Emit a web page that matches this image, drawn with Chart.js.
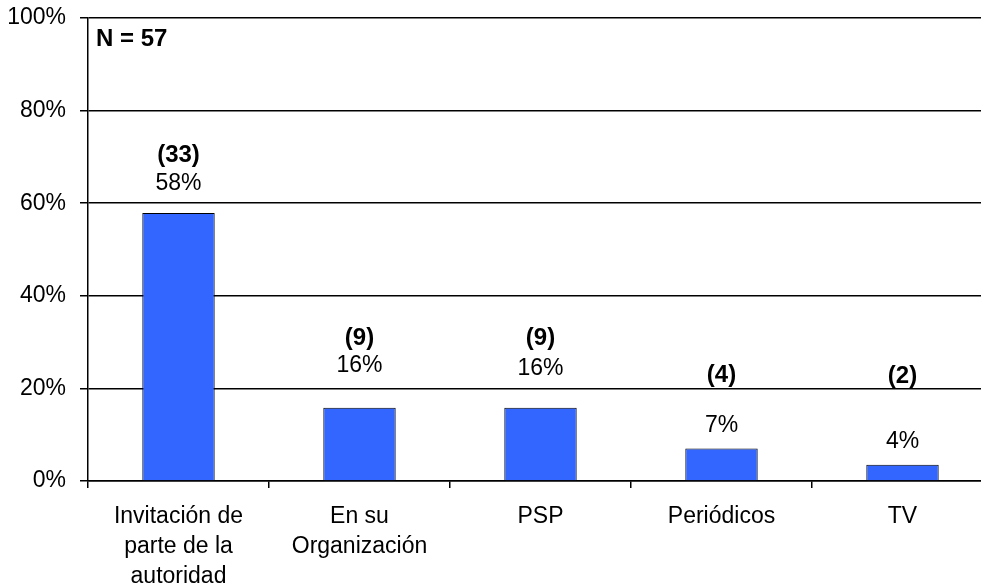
<!DOCTYPE html>
<html>
<head>
<meta charset="utf-8">
<script src="https://cdn.jsdelivr.net/npm/chart.js@4.4.0/dist/chart.umd.min.js"></script>
<style>
html,body{margin:0;padding:0;background:#fff;overflow:hidden;width:981px;height:585px;}
#wrap{position:absolute;left:0;top:0;width:994px;height:585px;}
</style>
</head>
<body>
<div id="wrap"><canvas id="c"></canvas></div>
<script>
const categories = [['Invitación de','parte de la','autoridad'], ['En su','Organización'], 'PSP', 'Periódicos', 'TV'];
const counts = [33, 9, 9, 4, 2];
const percents = [57.9, 15.8, 15.8, 7.0, 3.5];
const percentLabels = ['58%', '16%', '16%', '7%', '4%'];
const sampleLabel = 'N = 57';

const FONT = "'Liberation Sans', Arial, sans-serif";

// label placement (in axis value units), kept separate from the data
const labelLayout = {
  countY: [70.4, 30.7, 30.7, 22.9, 22.7],
  pctY:   [64.3, 24.9, 24.2, 11.9, 8.5]
};

const labelPlugin = {
  id: 'barLabels',
  afterDatasetsDraw(chart) {
    const ctx = chart.ctx;
    const meta = chart.getDatasetMeta(0);
    const ys = chart.scales.y;
    ctx.save();
    ctx.fillStyle = '#000';
    ctx.textAlign = 'center';
    ctx.textBaseline = 'middle';
    meta.data.forEach((bar, i) => {
      ctx.font = 'bold 24px ' + FONT;
      ctx.fillText('(' + counts[i] + ')', bar.x, ys.getPixelForValue(labelLayout.countY[i]));
      ctx.font = '23px ' + FONT;
      ctx.fillText(percentLabels[i], bar.x, ys.getPixelForValue(labelLayout.pctY[i]));
    });
    ctx.font = 'bold 24px ' + FONT;
    ctx.textAlign = 'left';
    ctx.fillText(sampleLabel, chart.chartArea.left + 8, chart.chartArea.top + 21);
    ctx.restore();
  }
};

new Chart(document.getElementById('c'), {
  type: 'bar',
  data: {
    labels: categories,
    datasets: [{
      data: percents,
      backgroundColor: '#3366ff',
      borderColor: '#000',
      borderWidth: 1,
      barPercentage: 0.4,
      categoryPercentage: 1.0
    }]
  },
  options: {
    responsive: true,
    maintainAspectRatio: false,
    animation: false,
    layout: { padding: { top: 18, left: 0, right: 1, bottom: 0 } },
    plugins: { legend: { display: false }, tooltip: { enabled: false } },
    scales: {
      y: {
        min: 0, max: 100,
        afterFit(s) { s.width = 88; s.paddingTop = 0; s.paddingBottom = 0; },
        ticks: { stepSize: 20, callback: v => v + '%', color: '#000', padding: 14, font: { family: FONT, size: 23 } },
        grid: { color: '#000', lineWidth: 1.5, tickLength: 8, drawTicks: true },
        border: { color: '#000', width: 1.5 }
      },
      x: {
        afterFit(s) { s.height = 104; s.paddingLeft = 0; s.paddingRight = 0; },
        ticks: { color: '#000', padding: 14, maxRotation: 0, autoSkip: false, font: { family: FONT, size: 23, lineHeight: 1.29 } },
        grid: { color: '#000', lineWidth: 1.5, drawOnChartArea: false, tickLength: 7, offset: true },
        border: { color: '#000', width: 1.5 }
      }
    }
  },
  plugins: [labelPlugin]
});
</script>
</body>
</html>
